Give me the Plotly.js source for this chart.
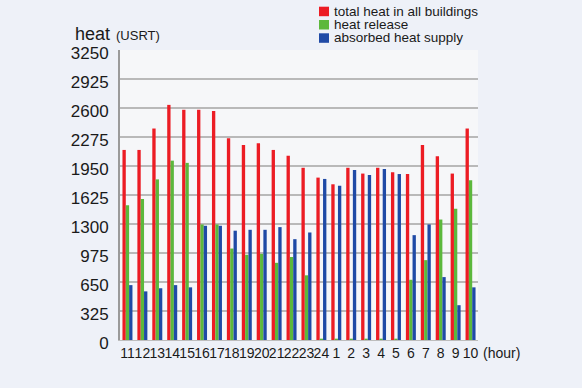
<!DOCTYPE html>
<html>
<head>
<meta charset="utf-8">
<script src="https://cdn.plot.ly/plotly-3.0.1.min.js"></script>
<style>html,body{margin:0;padding:0;background:#eef1f8;}#chart{width:582px;height:388px;}</style>
</head>
<body>
<div id="chart"></div>
<script>
const hours = ['11','12','13','14','15','16','17','18','19','20','21','22','23','24','1','2','3','4','5','6','7','8','9','10'];
const totalHeat = [2130,2130,2370,2635,2580,2580,2565,2260,2185,2205,2130,2065,1930,1820,1745,1930,1865,1930,1880,1860,2185,2060,1865,2370];
const heatRelease = [1510,1580,1800,2010,1985,1295,1295,1025,955,965,865,930,725,15,15,15,15,15,15,675,895,1350,1470,1790];
const absorbedSupply = [615,545,580,615,590,1280,1280,1225,1235,1235,1265,1130,1205,1805,1730,1905,1850,1915,1860,1175,1295,705,390,590];
const yTicks = [0,325,650,975,1300,1625,1950,2275,2600,2925,3250];
const seriesNames = ['total heat in all buildings','heat release','absorbed heat supply'];
const colors = ['#ec1c24','#5cb83c','#1f4aa6'];

const traces = [totalHeat, heatRelease, absorbedSupply].map((vals, i) => ({
  type: 'bar', x: hours, y: vals, name: seriesNames[i],
  marker: {color: colors[i], line: {width: 0}}, showlegend: false, hoverinfo: 'none'
}));

const FONT = 'Liberation Sans, Arial, sans-serif';
const shapes = [];
const annotations = [];
seriesNames.forEach((n, i) => {
  const y0 = 6.7 + i * 13.3;
  shapes.push({type: 'rect', xref: 'paper', yref: 'paper',
    x0: (319 - 120) / 358, x1: (329 - 120) / 358,
    y0: (340 - y0 - 9.5) / 290, y1: (340 - y0) / 290,
    fillcolor: colors[i], line: {width: 0}});
  annotations.push({xref: 'paper', yref: 'paper', x: (332 - 120) / 358, y: (340 - y0 - 4.6) / 290,
    xanchor: 'left', yanchor: 'middle', text: n, showarrow: false,
    font: {family: FONT, size: 13.5, color: '#1a1a1a'}});
});
annotations.push({xref: 'paper', yref: 'paper', x: (73 - 120) / 358, y: (340 - 34) / 290,
  xanchor: 'left', yanchor: 'middle', text: 'heat', showarrow: false,
  font: {family: FONT, size: 18, color: '#1a1a1a'}});
annotations.push({xref: 'paper', yref: 'paper', x: (114 - 120) / 358, y: (340 - 35) / 290,
  xanchor: 'left', yanchor: 'middle', text: '(USRT)', showarrow: false,
  font: {family: FONT, size: 13, color: '#1a1a1a'}});
annotations.push({xref: 'paper', yref: 'paper', x: (481 - 120) / 358, y: (340 - 353) / 290,
  xanchor: 'left', yanchor: 'middle', text: '(hour)', showarrow: false,
  font: {family: FONT, size: 14, color: '#1a1a1a'}});

const layout = {
  width: 582, height: 388,
  margin: {l: 120, r: 104, t: 50, b: 48, pad: 0},
  paper_bgcolor: '#eef1f8', plot_bgcolor: '#f6f7f9',
  barmode: 'group', bargap: 0.33, bargroupgap: 0,
  font: {family: FONT, color: '#1a1a1a'},
  xaxis: {type: 'category', tickmode: 'array', tickvals: hours, ticktext: hours, tickangle: 0,
    tickfont: {size: 14}, showgrid: false, zeroline: false,
    showline: true, linecolor: '#bdbdbd', linewidth: 1, ticks: '', fixedrange: true},
  yaxis: {range: [0, 3250], tickvals: yTicks, ticktext: yTicks.map(String), tickfont: {size: 17},
    showgrid: true, gridcolor: '#b9b9b9', gridwidth: 2, zeroline: false,
    showline: true, linecolor: '#9a9a9a', linewidth: 2, ticks: '', ticklabelstandoff: 6,
    ticklabelshift: 3, fixedrange: true},
  shapes: shapes, annotations: annotations
};
Plotly.newPlot('chart', traces, layout, {displayModeBar: false, staticPlot: true});
</script>
</body>
</html>
